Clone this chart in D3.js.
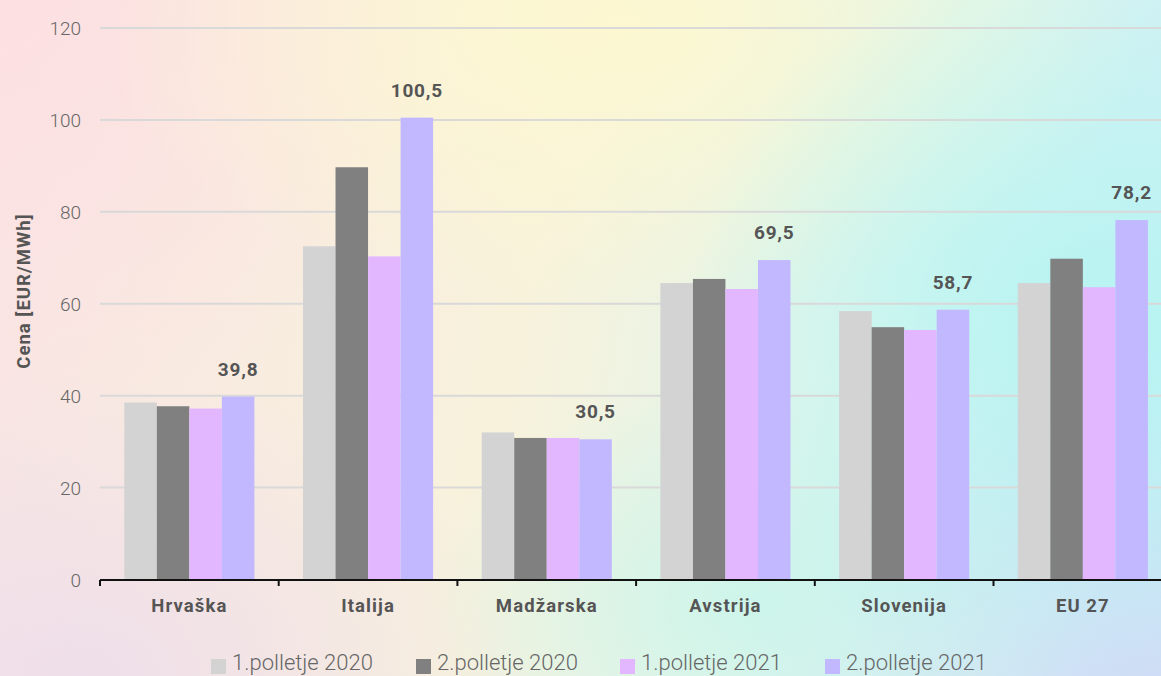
<!DOCTYPE html>
<html>
<head>
<meta charset="utf-8">
<script src="https://cdn.jsdelivr.net/npm/d3@7"></script>
<style>
  html, body { margin: 0; padding: 0; width: 1161px; height: 676px; overflow: hidden; }
  body {
    background:
      radial-gradient(ellipse 420px 380px at 1100px 330px, rgba(180,244,242,0.95), rgba(180,244,242,0) 100%),
      radial-gradient(ellipse 340px 220px at 760px 600px, rgba(200,245,235,0.8), rgba(200,245,235,0) 100%),
      radial-gradient(ellipse 520px 300px at 620px 20px, rgba(253,248,208,0.95), rgba(253,248,208,0) 100%),
      radial-gradient(ellipse 420px 340px at 1150px 676px, rgba(210,218,246,0.95), rgba(210,218,246,0) 100%),
      radial-gradient(ellipse 460px 420px at 0px 0px, rgba(253,224,226,0.95), rgba(253,224,226,0) 100%),
      radial-gradient(ellipse 460px 300px at 80px 676px, rgba(238,222,234,0.95), rgba(238,222,234,0) 100%),
      linear-gradient(100deg, #f9e4e4 0%, #f8f2dc 45%, #dbf6ee 75%, #cdeef6 100%);
  }
  svg { position: absolute; left: 0; top: 0; }
</style>
</head>
<body>
<svg id="chart" width="1161" height="676"></svg>
<script>
const categories = ["Hrvaška", "Italija", "Madžarska", "Avstrija", "Slovenija", "EU 27"];
const seriesNames = ["1.polletje 2020", "2.polletje 2020", "1.polletje 2021", "2.polletje 2021"];
const h1_2020 = [38.5, 72.5, 32.0, 64.5, 58.4, 64.5];
const h2_2020 = [37.7, 89.7, 30.8, 65.4, 54.9, 69.8];
const h1_2021 = [37.2, 70.3, 30.8, 63.2, 54.3, 63.6];
const h2_2021 = [39.8, 100.5, 30.5, 69.5, 58.7, 78.2];
const yTicks = [0, 20, 40, 60, 80, 100, 120];
const colors = ["#d3d3d3", "#808080", "#e3b7ff", "#c1b8ff"];

const series = [h1_2020, h2_2020, h1_2021, h2_2021];
const svg = d3.select("#chart");

const x0 = d3.scaleBand().domain(categories).range([100, 100 + 6 * 178.7]).padding(0);
const x1 = d3.scaleBand().domain(d3.range(4)).range([24.3, 178.7 - 24.3]).padding(0);
const y = d3.scaleLinear().domain([0, 120]).range([579.5, 28]);

// gridlines
svg.append("g").selectAll("line").data(yTicks.filter(d => d > 0)).join("line")
  .attr("x1", 100).attr("x2", 1161)
  .attr("y1", d => y(d)).attr("y2", d => y(d))
  .attr("stroke", "#d9d9d9").attr("stroke-width", 2);

// y tick labels
svg.append("g").selectAll("text").data(yTicks).join("text")
  .attr("x", 81).attr("y", d => y(d) + 7)
  .attr("text-anchor", "end")
  .attr("font-family", "Roboto, sans-serif").attr("font-weight", 300)
  .attr("font-size", 19).attr("fill", "#666666")
  .text(d => d);

// bars
const groups = svg.append("g").selectAll("g").data(categories).join("g")
  .attr("transform", d => `translate(${x0(d)},0)`);
groups.selectAll("rect").data((c, i) => series.map((s, k) => ({ k, v: s[i] }))).join("rect")
  .attr("x", d => x1(d.k))
  .attr("width", x1.bandwidth())
  .attr("y", d => y(d.v))
  .attr("height", d => y(0) - y(d.v))
  .attr("fill", d => colors[d.k]);

// value labels on last series
svg.append("g").selectAll("text").data(categories).join("text")
  .attr("x", c => x0(c) + x1(3) + x1.bandwidth() / 2)
  .attr("y", (c, i) => y(h2_2021[i]) - 21)
  .attr("text-anchor", "middle")
  .attr("font-family", "Roboto, sans-serif").attr("font-weight", 700)
  .attr("font-size", 19).attr("fill", "#555555").attr("letter-spacing", 0.8)
  .text((c, i) => d3.format(".1f")(h2_2021[i]).replace(".", ","));

// x axis
const xAxis = svg.append("g");
xAxis.append("line").attr("x1", 100).attr("x2", 1161).attr("y1", 580).attr("y2", 580)
  .attr("stroke", "#111").attr("stroke-width", 2);
xAxis.selectAll("line.tick").data(categories).join("line").attr("class", "tick")
  .attr("x1", d => x0(d)).attr("x2", d => x0(d))
  .attr("y1", 580).attr("y2", 586)
  .attr("stroke", "#111").attr("stroke-width", 2);
xAxis.selectAll("text").data(categories).join("text")
  .attr("x", d => x0(d) + x0.bandwidth() / 2)
  .attr("y", 612)
  .attr("text-anchor", "middle")
  .attr("font-family", "Roboto, sans-serif").attr("font-weight", 700)
  .attr("font-size", 18.5).attr("fill", "#555555").attr("letter-spacing", 1.1)
  .text(d => d);

// y axis title
svg.append("text")
  .attr("transform", "translate(30,291) rotate(-90)")
  .attr("text-anchor", "middle")
  .attr("font-family", "Roboto, sans-serif").attr("font-weight", 700)
  .attr("font-size", 18.5).attr("fill", "#555555").attr("letter-spacing", 1)
  .text("Cena [EUR/MWh]");

// legend
const legendX = [211, 416, 620, 825];
const lg = svg.append("g").selectAll("g").data(seriesNames).join("g")
  .attr("transform", (d, i) => `translate(${legendX[i]},0)`);
lg.append("rect").attr("x", 0).attr("y", 659).attr("width", 15).attr("height", 15)
  .attr("fill", (d, i) => colors[i]);
lg.append("text").attr("x", 21).attr("y", 670)
  .attr("font-family", "Roboto, sans-serif").attr("font-weight", 300)
  .attr("font-size", 22).attr("fill", "#666666")
  .text(d => d);
</script>
</body>
</html>
